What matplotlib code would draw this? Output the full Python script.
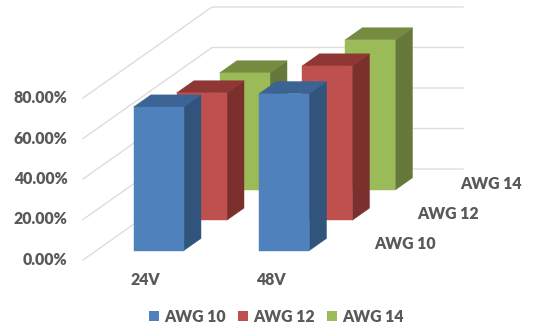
import matplotlib
matplotlib.use("Agg")
import matplotlib.pyplot as plt
from matplotlib.patches import Polygon, Patch

categories = ["24V", "48V"]
series_names = ["AWG 10", "AWG 12", "AWG 14"]
awg10 = [70.9, 77.5]
awg12 = [62.9, 76.2]
awg14 = [57.8, 74.1]
yticks = [0, 20, 40, 60, 80]
ytick_labels = ["0.00%", "20.00%", "40.00%", "60.00%", "80.00%"]

front_cols = ["#4F81BD", "#C0504D", "#9BBB59"]
top_cols = ["#3B6394", "#8E3735", "#748B40"]
side_cols = ["#31547C", "#7B302E", "#66793A"]
text_col = "#595959"

plt.rcParams["font.family"] = ["Lato", "DejaVu Sans"]
plt.rcParams["font.weight"] = "heavy"
FS = 11.4

# oblique depth: how far the back wall shifts, in axis units
DEPTH_X = 129 / 125.5
DEPTH_Y = 91 / 2.025


def project(x, v, d):
    return (x + d * DEPTH_X, v + d * DEPTH_Y)


fig = plt.figure(figsize=(5.35, 3.27), dpi=100)
ax = fig.add_axes([0, 0, 1, 1])
ax.set_xlim(-83 / 125.5, 452 / 125.5)
ax.set_ylim(-67 / 2.025, 260 / 2.025)
ax.axis("off")

# floor and wall gridlines
for v in yticks:
    pts = [project(0, v, 0), project(0, v, 1), project(2, v, 1)]
    ax.plot([p[0] for p in pts], [p[1] for p in pts], color="#DDDDDD", lw=1.0, zorder=1)

# back series first so the front ones cover them
all_values = [awg10, awg12, awg14]
z = 2
for s in [2, 1, 0]:
    d0 = (s + 0.31) / 3
    d1 = (s + 0.71) / 3
    for i, val in enumerate(all_values[s]):
        x0, x1 = i + 0.297, i + 0.697
        front = [project(x0, 0, d0), project(x1, 0, d0), project(x1, val, d0), project(x0, val, d0)]
        top = [project(x0, val, d0), project(x1, val, d0), project(x1, val, d1), project(x0, val, d1)]
        side = [project(x1, 0, d0), project(x1, 0, d1), project(x1, val, d1), project(x1, val, d0)]
        ax.add_patch(Polygon(side, closed=True, fc=side_cols[s], ec=side_cols[s], lw=0.3, zorder=z))
        ax.add_patch(Polygon(top, closed=True, fc=top_cols[s], ec=top_cols[s], lw=0.3, zorder=z))
        ax.add_patch(Polygon(front, closed=True, fc=front_cols[s], ec=front_cols[s], lw=0.3, zorder=z + 0.5))
    z += 1

# value labels
for v, lab in zip(yticks, ytick_labels):
    ax.text(-15.5 / 125.5, v, lab, ha="right", va="center", color=text_col, fontsize=FS)

# category labels
for i, lab in enumerate(categories):
    ax.text(i + 0.497, -9.9, lab, ha="center", va="center", color=text_col, fontsize=FS)

# series labels next to the floor
for s, lab in enumerate(series_names):
    px = 405 + s * 43.2
    ax.text((px - 83) / 125.5, (260 - (244 - s * 30)) / 2.025, lab,
            ha="center", va="center", color=text_col, fontsize=FS)

handles = [Patch(fc=c, ec="none") for c in front_cols]
leg = ax.legend(handles, series_names, loc="center", bbox_to_anchor=(276.5 / 535, 1 - 316.5 / 327),
                ncol=3, frameon=False, fontsize=FS, labelcolor=text_col,
                handlelength=0.62, handleheight=0.62, handletextpad=0.35, columnspacing=0.75,
                borderpad=0, borderaxespad=0)

plt.savefig("out.png", dpi=100)
